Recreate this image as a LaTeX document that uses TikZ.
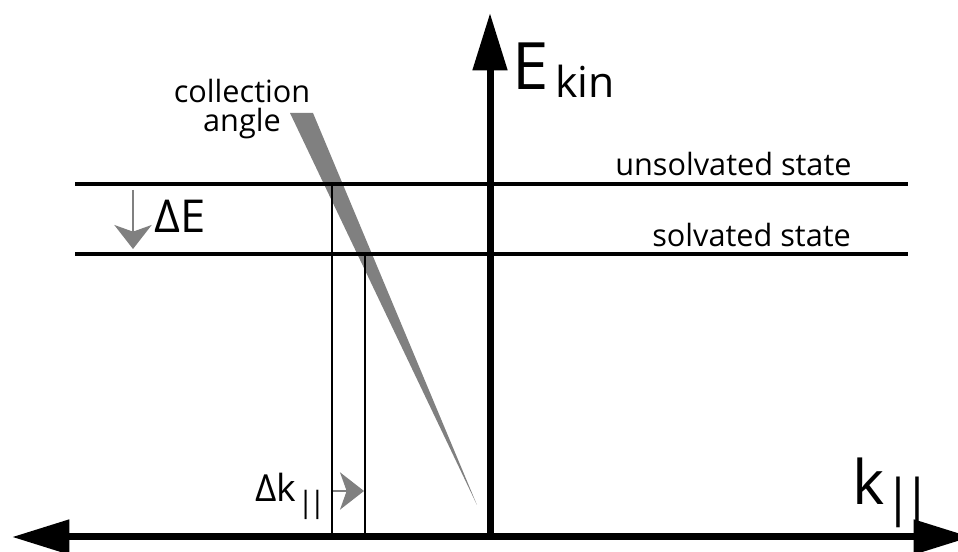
\documentclass[tikz,border=0pt]{standalone}
\usepackage{fontspec}
\setmainfont{Open Sans}
\usetikzlibrary{arrows.meta}
\definecolor{wedgegray}{HTML}{808080}

\begin{document}
\begin{tikzpicture}[x=0.75pt,y=-0.75pt,
  axis/.style={draw=black, line width=5.25pt},
  level/.style={draw=black, line width=3pt},
  proj/.style={draw=black, line width=1.5pt},
  axtip/.tip={Triangle[length=43pt,width=25pt]},
  shiftarrow/.style={draw=wedgegray, line width=1.5pt, -{Stealth[length=18pt,width=28pt,inset=5pt]}},
  lbl/.style={inner sep=0pt, anchor=base west, font=\fontsize{23}{27}\selectfont},
]
\useasboundingbox (0,0) rectangle (958,552);
% ---------------- axes ----------------
\coordinate (origin) at (490,537);
\coordinate (kleft) at (12,537);
\coordinate (kright) at (971,537);
\coordinate (etop) at (490,13);
% ---------------- collection angle ----------------
\fill[wedgegray] (290,113) -- (313,113) -- (477,505) -- cycle;
\node[lbl, anchor=base] (coll) at (242,103) {collection};
\node[lbl, anchor=base] (angle) at (242,132) {angle};
% ---------------- levels ----------------
\coordinate (unsL) at (75,184);
\coordinate (unsR) at (908,184);
\coordinate (solL) at (75,254);
\coordinate (solR) at (908,254);
\draw[level] (unsL) -- (unsR);
\draw[level] (solL) -- (solR);
\node[lbl] (uns) at (615,176) {unsolvated state};
\node[lbl] (sol) at (652,247) {solvated state};
% ---------------- projections ----------------
\coordinate (unsP) at (332,184);
\coordinate (unsK) at (332,537);
\coordinate (solP) at (365,254);
\coordinate (solK) at (365,537);
\draw[proj] (unsP) -- (unsK);
\draw[proj] (solP) -- (solK);
\draw[axis, axtip-axtip] (kleft) -- (kright);
\draw[axis, -axtip] (origin) -- (etop);
% ---------------- shifts ----------------
\coordinate (dEtop) at (133,190);
\coordinate (dEbot) at (133,249);
\draw[shiftarrow] (dEtop) -- (dEbot);
\node[lbl, font=\fontsize{34}{38}\selectfont] (dE) at (154,233) {ΔE};
\coordinate (dkleft) at (333,491);
\coordinate (dkright) at (364,491);
\draw[shiftarrow] (dkleft) -- (dkright);
\node[lbl, font=\fontsize{28}{32}\selectfont] (dk) at (255,502) {Δk\kern1pt\raisebox{-8pt}{\fontsize{22}{24}\selectfont|\kern-3.3pt|}};
% ---------------- axis labels ----------------
\node[lbl, font=\fontsize{49}{55}\selectfont] (E) at (512,90) {E};
\node[lbl, font=\fontsize{32}{36}\selectfont] (kin) at (555,98) {kin};
\node[lbl, font=\fontsize{46}{50}\selectfont] (k) at (852,505) {k\raisebox{-8pt}{\fontsize{38}{40}\selectfont|\kern-6.5pt|}};
\end{tikzpicture}
\end{document}
